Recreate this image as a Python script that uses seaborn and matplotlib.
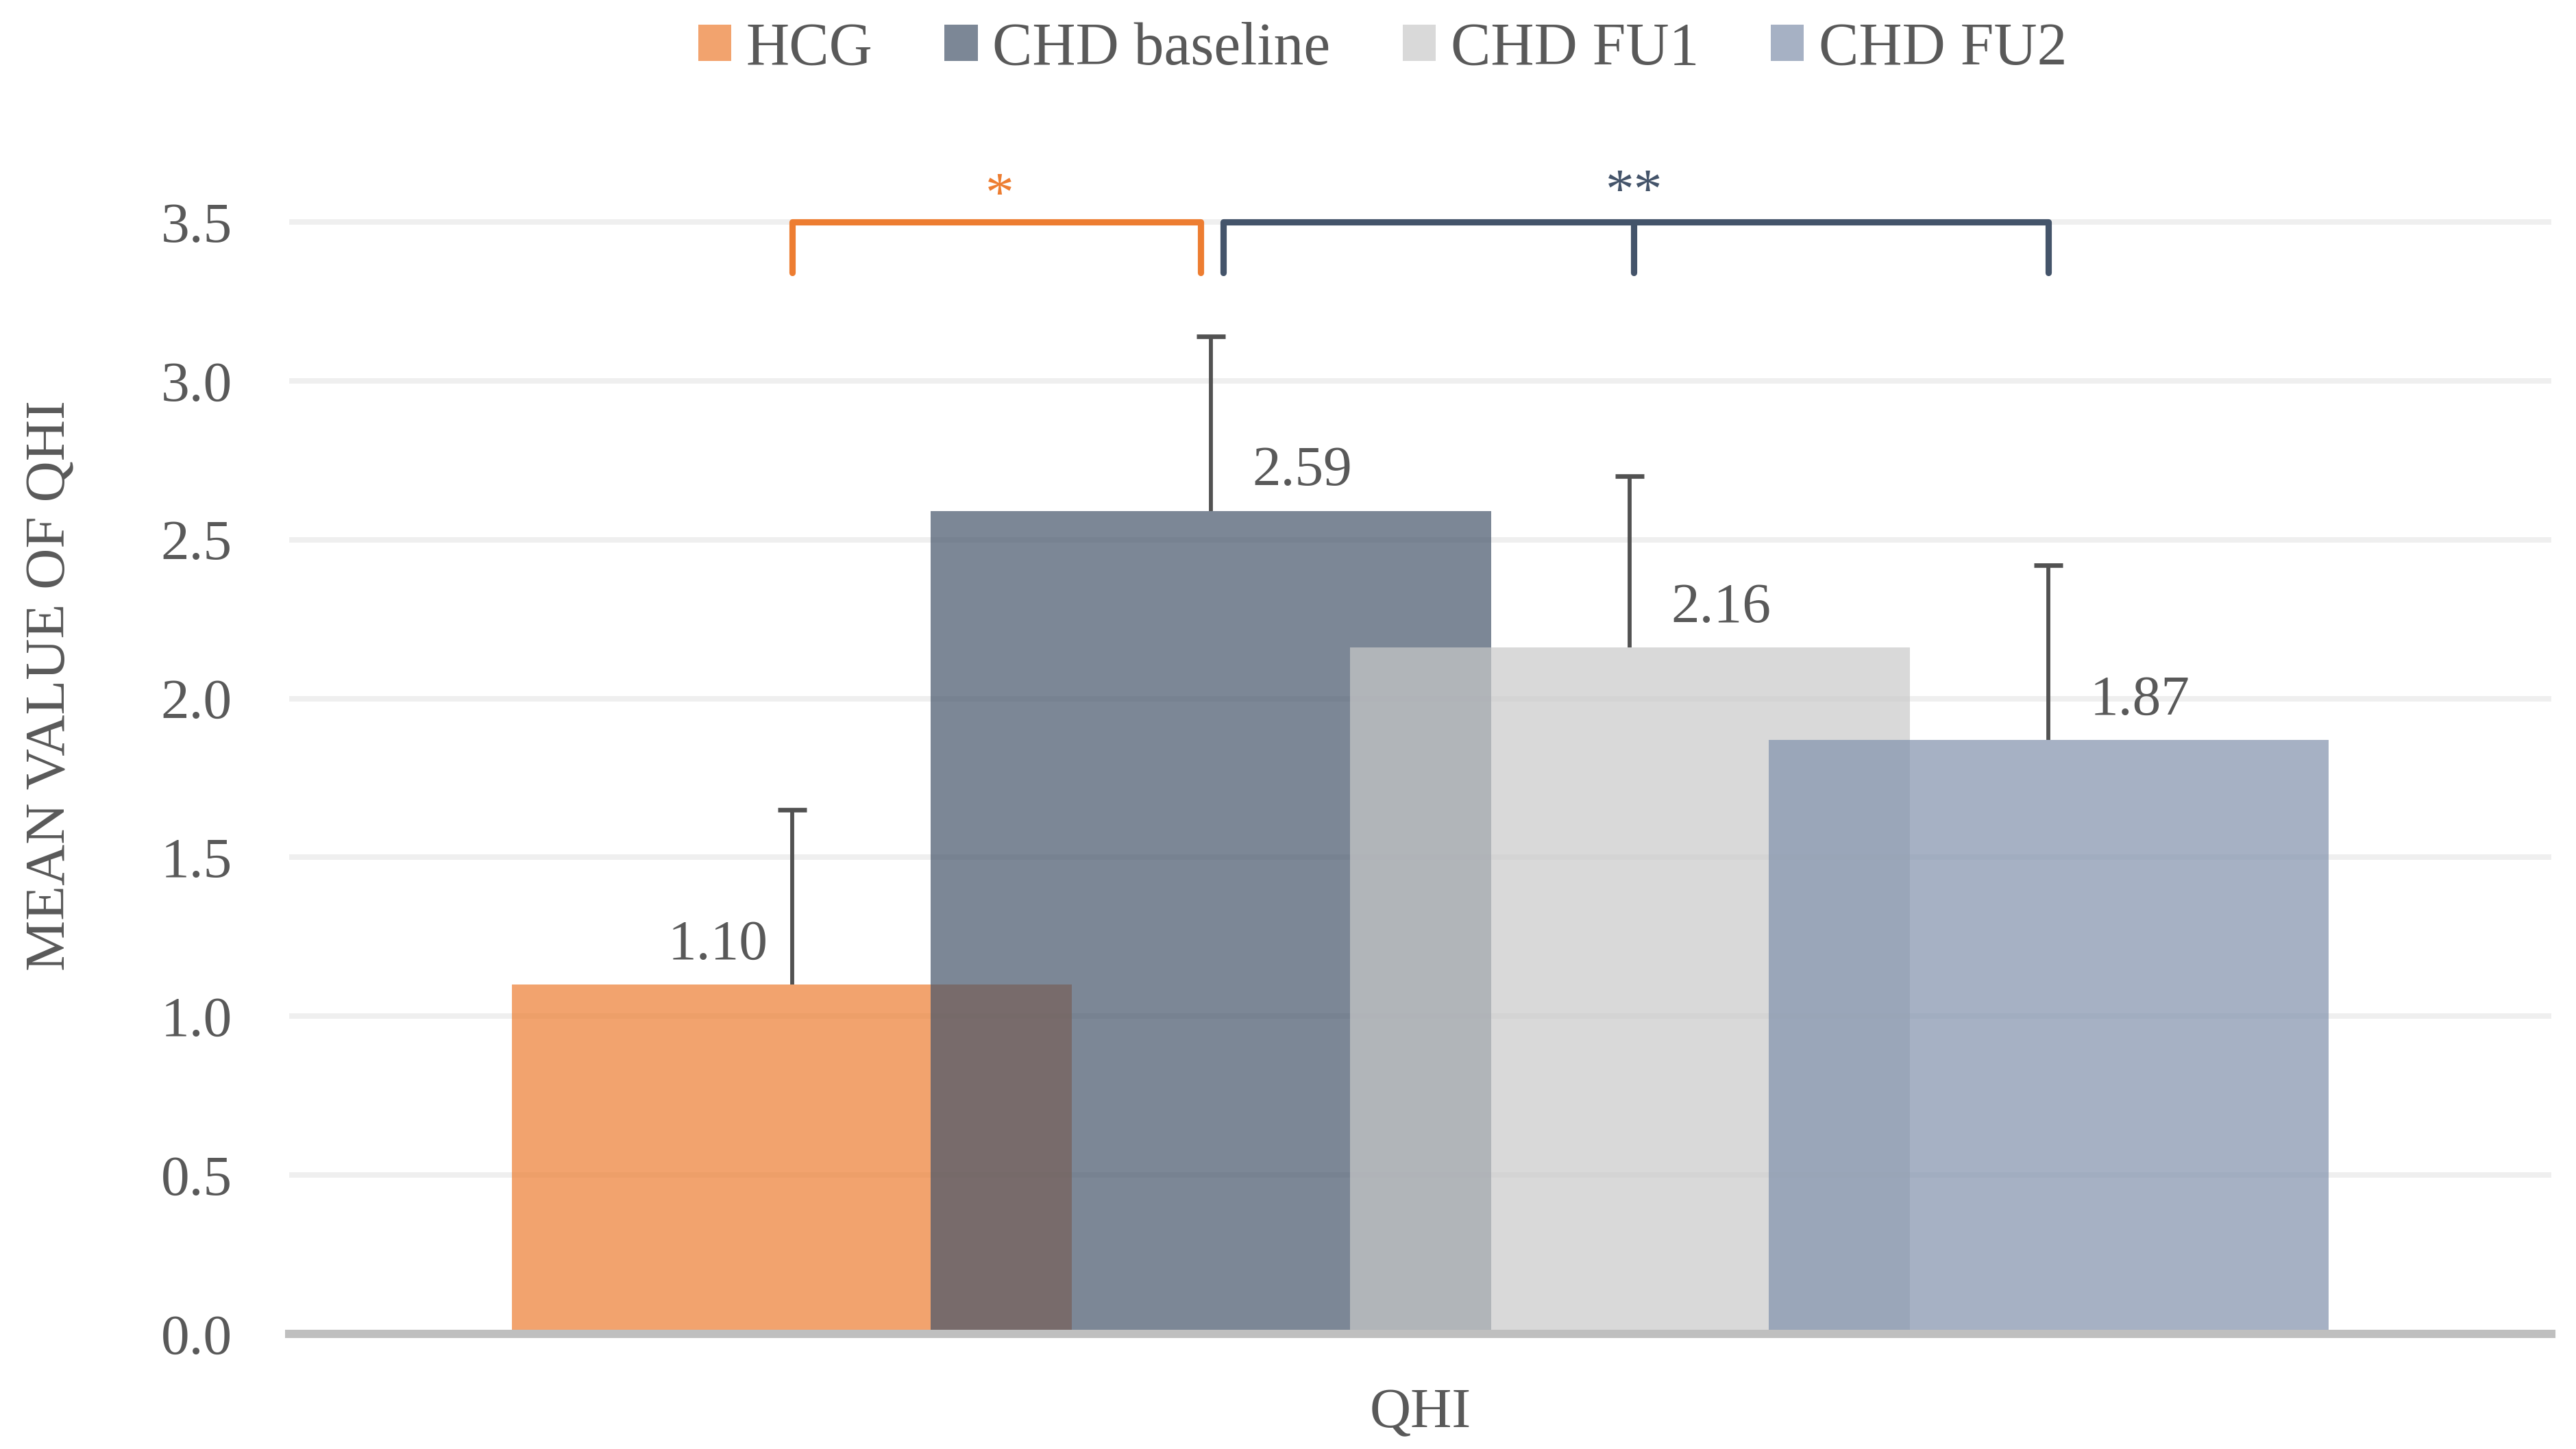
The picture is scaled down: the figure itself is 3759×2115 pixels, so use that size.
import numpy as np
import pandas as pd
import matplotlib
matplotlib.use("Agg")
import matplotlib.pyplot as plt
from matplotlib.patches import Patch
import seaborn as sns

# values
groups = ["HCG", "CHD baseline", "CHD FU1", "CHD FU2"]
means = [1.10, 2.59, 2.16, 1.87]
errors = [0.55, 0.55, 0.54, 0.55]
bar_colors = ["#ED7D31", "#44546A", "#C9C9C9", "#8091AC"]
y_ticks = [0.0, 0.5, 1.0, 1.5, 2.0, 2.5, 3.0, 3.5]
measure = "QHI"
y_title = "MEAN VALUE OF QHI"

df = pd.DataFrame({"group": groups, "mean": means, "err": errors})
df["top"] = df["mean"] + df["err"]

sns.set_style("white")
plt.rcParams["font.family"] = ["Liberation Serif", "DejaVu Serif"]
text_col = "#595959"
fs = 20

fig = plt.figure(figsize=(3759 / 300, 2115 / 300), dpi=300)
ax = fig.add_axes([0.1123, 0.0794, 0.8781, 0.8771])

# overlapping, semi transparent bars (width > 1 category)
sns.barplot(data=df, x="group", y="mean", hue="group", order=groups,
            hue_order=groups, palette=bar_colors, width=1.337, alpha=0.7,
            saturation=1, errorbar=None, legend=False, ax=ax, linewidth=0)

# upward-only error bars, cap at the top only
xpos = np.arange(len(groups))
ax.vlines(xpos, df["mean"], df["top"], color="#525252", linewidth=1.4, zorder=3)
ax.plot(xpos, df["top"], linestyle="none", marker="_", markersize=10,
        markeredgewidth=1.6, color="#525252", zorder=3)

# data labels
for i, m in enumerate(means):
    dx = -26 if i == 0 else 32
    ax.annotate(f"{m:.2f}", (i, m), xytext=(dx, 9), textcoords="offset points",
                ha="center", va="baseline", fontsize=fs, color=text_col)

# significance brackets
ax.plot([0, 0, 0.975, 0.975], [3.34, 3.5, 3.5, 3.34], color="#ED7D31", lw=2.2,
        solid_joinstyle="round", solid_capstyle="round", zorder=4)
ax.plot([1.03, 1.03, 3.0, 3.0], [3.34, 3.5, 3.5, 3.34], color="#44546A", lw=2.2,
        solid_joinstyle="round", solid_capstyle="round", zorder=4)
ax.plot([2.01, 2.01], [3.5, 3.34], color="#44546A", lw=2.2, solid_capstyle="round", zorder=4)
ax.text(0.496, 3.535, "*", color="#ED7D31", fontsize=fs, ha="center", va="baseline")
ax.text(2.01, 3.545, "**", color="#44546A", fontsize=fs, ha="center", va="baseline")

# axes styling
ax.set_xlim(-1.2, 4.2)
ax.set_ylim(0, 4.0)
ax.set_yticks(y_ticks)
ax.set_yticklabels([f"{t:.1f}" for t in y_ticks])
ax.set_xticks([])
ax.tick_params(axis="y", length=0, pad=20, labelsize=fs, labelcolor=text_col)
ax.yaxis.grid(True, color="#EFEFEF", linewidth=1.9)
ax.set_axisbelow(True)
for s in ["left", "right", "top"]:
    ax.spines[s].set_visible(False)
ax.spines["bottom"].set_color("#BFBFBF")
ax.spines["bottom"].set_linewidth(2.9)

ax.set_xlabel(measure, fontsize=fs, color=text_col, labelpad=19)
ax.set_ylabel(y_title, fontsize=fs, color=text_col)
ax.yaxis.set_label_coords(-0.094, 0.51)

handles = [Patch(facecolor=c, alpha=0.7, linewidth=0) for c in bar_colors]
fig.legend(handles, groups, loc="center", bbox_to_anchor=(0.5367, 0.966), ncol=4,
           frameon=False, fontsize=21, handlelength=0.55, handleheight=0.55,
           handletextpad=0.25, columnspacing=1.2, labelcolor=text_col)

plt.savefig("out.png", dpi=300)
